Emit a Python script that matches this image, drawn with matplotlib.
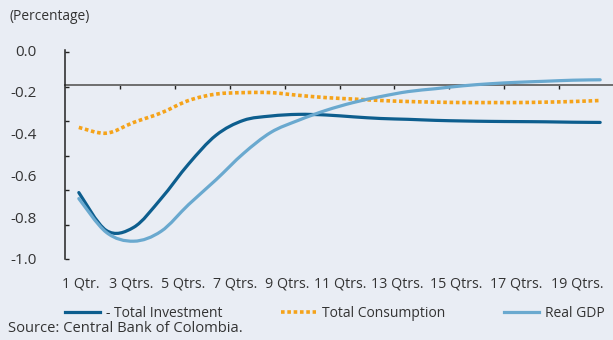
import numpy as np
import matplotlib
matplotlib.use('Agg')
import matplotlib.pyplot as plt
from matplotlib.path import Path
from matplotlib.patches import PathPatch
from matplotlib.lines import Line2D

# Data (quarters after the shock, percentage)
quarters = list(range(1, 21))
total_investment = [-0.679, -0.862, -0.847, -0.708, -0.541, -0.402, -0.330, -0.309, -0.301, -0.304,
                    -0.313, -0.321, -0.325, -0.330, -0.333, -0.335, -0.336, -0.337, -0.339, -0.340]
total_consumption = [-0.364, -0.392, -0.340, -0.294, -0.234, -0.203, -0.196, -0.196, -0.209, -0.220,
                     -0.227, -0.234, -0.239, -0.242, -0.244, -0.244, -0.244, -0.242, -0.239, -0.234]
real_gdp = [-0.708, -0.871, -0.914, -0.866, -0.737, -0.617, -0.490, -0.388, -0.330, -0.282,
            -0.244, -0.215, -0.191, -0.177, -0.163, -0.153, -0.146, -0.141, -0.136, -0.134]

series_names = ['- Total Investment', 'Total Consumption', 'Real GDP']
ytick_labels = ['0.0', '-0.2', '-0.4', '-0.6', '-0.8', '-1.0']
xtick_labels = ['1 Qtr.'] + [f'{q} Qtrs.' for q in range(3, 21, 2)]

# layout: the category labels run along like plain text, so they drift off the odd quarters
xlabel_pos = [1.07, 2.90, 4.80, 6.70, 8.58, 10.52, 12.62, 14.77, 16.95, 19.17]

BG = '#e9edf4'
TXT = '#333333'
C_INV = '#0d5e8e'
C_CONS = '#f5a31a'
C_GDP = '#6aa9cf'

plt.rcParams['font.family'] = ['Open Sans', 'DejaVu Sans']
plt.rcParams['font.size'] = 10


def smooth_path(x, y):
    # smoothed line like the spreadsheet's "smooth line" option (Catmull-Rom as Bezier)
    pts = np.column_stack([x, y]).astype(float)
    n = len(pts)
    verts = [pts[0]]
    codes = [Path.MOVETO]
    for i in range(n - 1):
        p0 = pts[max(i - 1, 0)]
        p1 = pts[i]
        p2 = pts[i + 1]
        p3 = pts[min(i + 2, n - 1)]
        verts += [p1 + (p2 - p0) / 6, p2 - (p3 - p1) / 6, p2]
        codes += [Path.CURVE4] * 3
    return Path(verts, codes)


fig = plt.figure(figsize=(6.13, 3.40), dpi=100, facecolor=BG)
ax = fig.add_axes([65.1 / 613, 1 - 259 / 340, 548.8 / 613, 209 / 340])
ax.set_facecolor(BG)
ax.set_xlim(0.5, 20.5)
ax.set_ylim(-1.0, 0.0)

for s in ['top', 'right', 'bottom']:
    ax.spines[s].set_visible(False)
ax.spines['left'].set_color('#222222')
ax.spines['left'].set_linewidth(1.1)

# y axis: tick marks split in six, labels in five steps
ax.yaxis.remove_overlapping_locs = False
ax.set_yticks(np.linspace(0, -1, 7), labels=[''] * 7)
ax.set_yticks(np.linspace(0.01, -1, 6), labels=ytick_labels, minor=True)
ax.tick_params(axis='y', which='major', direction='in', length=3, width=1, color='#222222')
ax.tick_params(axis='y', which='minor', length=0, pad=20.5, labelcolor=TXT, labelsize=11)

# x labels at the bottom
ax.set_xticks([])
ax.set_xticks(xlabel_pos, labels=xtick_labels, minor=True)
ax.tick_params(axis='x', which='minor', length=0, pad=12.5, labelcolor=TXT, labelsize=10.3)

# horizontal axis line crossing higher up
sec = ax.secondary_xaxis(5 / 6)
sec.set_alignment('bottom')
sec.set_xticks(np.arange(2.5, 21, 2), labels=[''] * 10)
sec.tick_params(axis='x', direction='out', length=3, width=1, color='#222222')
sec.spines['bottom'].set_color('#6e6e6e')
sec.spines['bottom'].set_linewidth(1.4)
sec.spines['top'].set_visible(False)

ax.add_patch(PathPatch(smooth_path(quarters, total_consumption), fill=False, edgecolor=C_CONS,
                       lw=2.6, linestyle=(0, (1, 0.75)), capstyle='butt', zorder=3))
ax.add_patch(PathPatch(smooth_path(quarters, total_investment), fill=False, edgecolor=C_INV,
                       lw=2.3, capstyle='round', zorder=3))
ax.add_patch(PathPatch(smooth_path(quarters, real_gdp), fill=False, edgecolor=C_GDP,
                       lw=2.3, capstyle='round', zorder=3))

handles = [Line2D([], [], color=C_INV, lw=2.3),
           Line2D([], [], color=C_CONS, lw=2.6, linestyle=(0, (1, 0.75)), dash_capstyle='butt'),
           Line2D([], [], color=C_GDP, lw=2.3)]
fig.legend(handles, series_names, loc='upper left', bbox_to_anchor=(58 / 613, 1 - 299 / 340),
           ncol=3, frameon=False, borderpad=0, handlelength=2.5, handletextpad=0.43,
           columnspacing=4.25, fontsize=10, labelcolor=TXT)

fig.text(10 / 613, 1 - 17 / 340, '(Percentage)', va='center', ha='left', color=TXT, fontsize=9.9)
fig.text(8 / 613, 1 - 328 / 340, 'Source: Central Bank of Colombia.', va='center', ha='left',
         color=TXT, fontsize=10.6)

fig.savefig('out.png', dpi=100, facecolor=BG)
